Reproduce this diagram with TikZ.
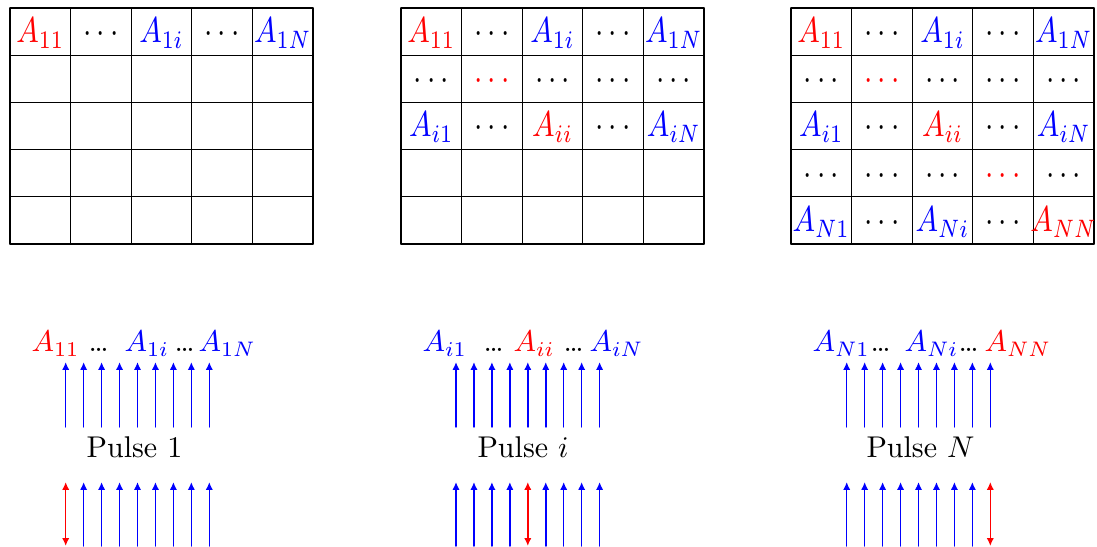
\documentclass[tikz,border=0pt]{standalone}
\usetikzlibrary{arrows.meta}
\newcommand{\tallmath}[1]{\scalebox{1}[1.2]{$#1$}}
\tikzset{
  gridline/.style={line width=0.4pt},
  celltext/.style={inner sep=0pt,anchor=base},
  pulselabel/.style={inner sep=0pt,anchor=base west},
  uparrow/.style={line width=0.5pt,blue,-{Latex[length=2.6pt,width=2.4pt]}},
  hitarrow/.style={line width=0.5pt,red,{Latex[length=2.6pt,width=2.4pt]}-{Latex[length=2.6pt,width=2.4pt]}},
}
\begin{document}
\begin{tikzpicture}[x=0.3333pt,y=-0.3333pt,line cap=round,line join=round]
  \useasboundingbox (0,0) rectangle (1097,547);
  % the three 5x5 grids
  \foreach \gx in {10,401,791} {
    \foreach \c in {0,...,5}
      \draw[gridline] (\gx+\c*60.6,8) -- (\gx+\c*60.6,244);
    \foreach \r in {0,...,5}
      \draw[gridline] (\gx,8+\r*47.2) -- (\gx+303,8+\r*47.2);
  }
  % first row, filled in all three grids
  \foreach \gx/\g in {10/1,401/2,791/3}
    \foreach \t [count=\c] in {{\textcolor{red}{A_{11}}},\cdots,{\textcolor{blue}{A_{1i}}},\cdots,{\textcolor{blue}{A_{1N}}}}
      \node[celltext] (g\g r1c\c) at (\gx+\c*60.6-30.3,43) {\tallmath{\t}};
  % rows 2 and 3
  \foreach \gx/\g in {401/2,791/3} {
    \foreach \t [count=\c] in {\cdots,{\textcolor{red}{\cdots}},\cdots,\cdots,\cdots}
      \node[celltext] (g\g r2c\c) at (\gx+\c*60.6-30.3,90) {\tallmath{\t}};
    \foreach \t [count=\c] in {{\textcolor{blue}{A_{i1}}},\cdots,{\textcolor{red}{A_{ii}}},\cdots,{\textcolor{blue}{A_{iN}}}}
      \node[celltext] (g\g r3c\c) at (\gx+\c*60.6-30.3,137) {\tallmath{\t}};
  }
  % rows 4 and 5, last grid only
  \foreach \t [count=\c] in {\cdots,\cdots,\cdots,{\textcolor{red}{\cdots}},\cdots}
    \node[celltext] (g3r4c\c) at (791+\c*60.6-30.3,185) {\tallmath{\t}};
  \foreach \t [count=\c] in {{\textcolor{blue}{A_{N1}}},\cdots,{\textcolor{blue}{A_{Ni}}},\cdots,{\textcolor{red}{A_{NN}}}}
    \node[celltext] (g3r5c\c) at (791+\c*60.6-30.3,232) {\tallmath{\t}};

  % labels over the pulses
  \node[pulselabel] (l1a) at (31,352) {$\color{red}A_{11}$};
  \node[pulselabel] (l1b) at (88,352) {\ldots};
  \node[pulselabel] (l1c) at (124,352) {$\color{blue}A_{1i}$};
  \node[pulselabel] (l1d) at (174,352) {\ldots};
  \node[pulselabel] (l1e) at (198,352) {$\color{blue}A_{1N}$};
  \node[pulselabel] (l2a) at (422,352) {$\color{blue}A_{i1}$};
  \node[pulselabel] (l2b) at (483,352) {\ldots};
  \node[pulselabel] (l2c) at (513,352) {$\color{red}A_{ii}$};
  \node[pulselabel] (l2d) at (563,352) {\ldots};
  \node[pulselabel] (l2e) at (589,352) {$\color{blue}A_{iN}$};
  \node[pulselabel] (l3a) at (812,352) {$\color{blue}A_{N1}$};
  \node[pulselabel] (l3b) at (870,352) {\ldots};
  \node[pulselabel] (l3c) at (904,352) {$\color{blue}A_{Ni}$};
  \node[pulselabel] (l3d) at (958,352) {\ldots};
  \node[pulselabel] (l3e) at (984,352) {$\color{red}A_{NN}$};

  \node[anchor=base,inner sep=0pt] (p1) at (134.5,458) {Pulse 1};
  \node[anchor=base,inner sep=0pt] (p2) at (523,458) {Pulse $i$};
  \node[anchor=base,inner sep=0pt] (p3) at (920.5,458) {Pulse $N$};

  % arrows, the red one is the element that is hit
  \foreach \ax/\g/\hit in {65.7/1/1,456/2/5,846.7/3/9}
    \foreach \k in {1,...,9} {
      \coordinate (u\g b\k) at (\ax+\k*17.95-17.95,427);
      \coordinate (u\g t\k) at (\ax+\k*17.95-17.95,362);
      \coordinate (d\g b\k) at (\ax+\k*17.95-17.95,546);
      \coordinate (d\g t\k) at (\ax+\k*17.95-17.95,482);
      \draw[uparrow] (u\g b\k) -- (u\g t\k);
      \ifnum\k=\hit\relax
        \draw[hitarrow] (d\g b\k) -- (d\g t\k);
      \else
        \draw[uparrow] (d\g b\k) -- (d\g t\k);
      \fi
    }
\end{tikzpicture}
\end{document}
